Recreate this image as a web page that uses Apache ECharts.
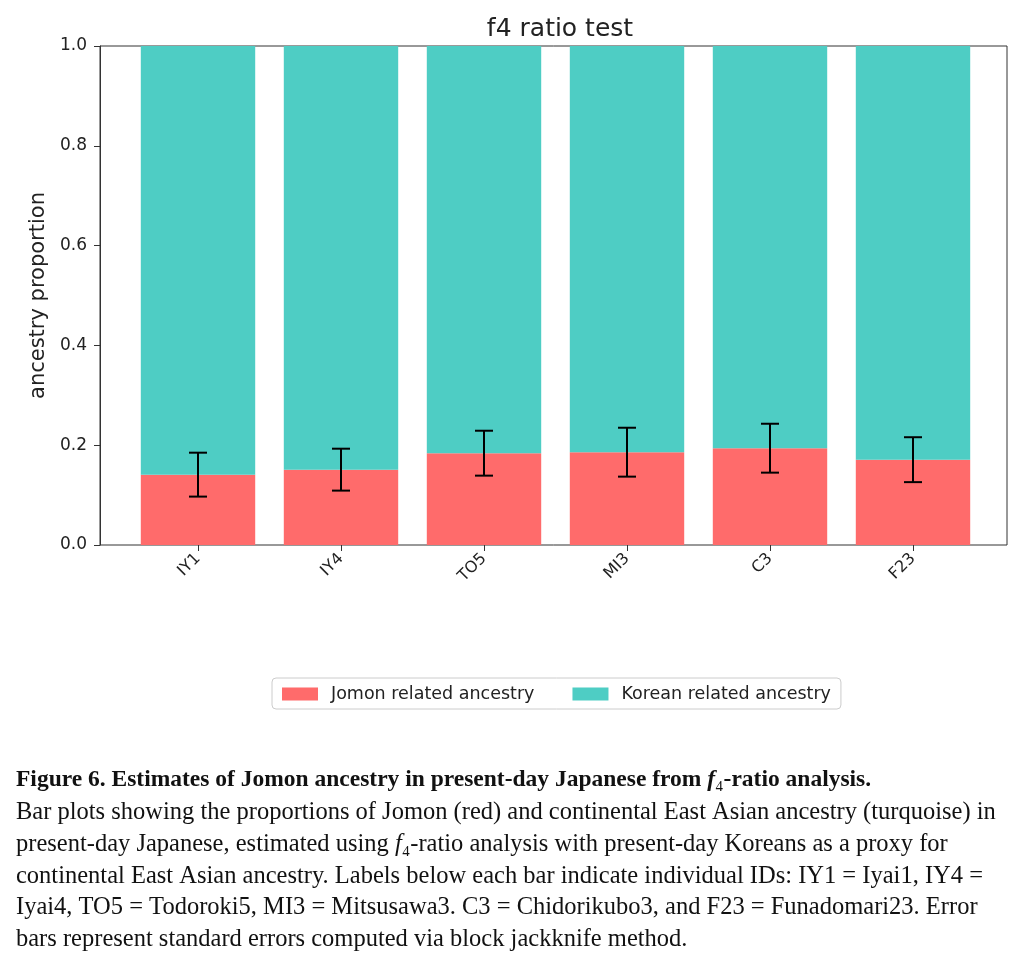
<!DOCTYPE html>
<html>
<head>
<meta charset="utf-8">
<title>f4 ratio test</title>
<script src="https://cdn.jsdelivr.net/npm/echarts@6/dist/echarts.min.js"></script>
<style>
  html, body { margin: 0; padding: 0; background: #fff; }
  #chart { width: 1024px; height: 971px; }
</style>
</head>
<body>
<div id="chart"></div>
<script>
// sample IDs and f4-ratio estimates
var samples = ["IY1", "IY4", "TO5", "MI3", "C3", "F23"];
var jomon = [0.141, 0.151, 0.184, 0.186, 0.194, 0.171];
var stdErr = [0.044, 0.042, 0.045, 0.049, 0.049, 0.045];
var yTicks = [0, 0.2, 0.4, 0.6, 0.8, 1.0];

var korean = jomon.map(function (v) { return 1 - v; });
var errData = samples.map(function (s, i) {
  return [i, jomon[i] - stdErr[i], jomon[i] + stdErr[i]];
});

var sans = "DejaVu Sans";
var serif = "Liberation Serif";

// caption under the figure
var caption = [
  [{ t: "Figure 6. Estimates of Jomon ancestry in present-day Japanese from ", s: "b" }, { t: "f", s: "bi" }, { t: "₄", s: "sub" }, { t: "-ratio analysis.", s: "b" }],
  [{ t: "Bar plots showing the proportions of Jomon (red) and continental East Asian ancestry (turquoise) in", s: "n" }],
  [{ t: "present-day Japanese, estimated using ", s: "n" }, { t: "f", s: "i" }, { t: "₄", s: "sub" }, { t: "-ratio analysis with present-day Koreans as a proxy for", s: "n" }],
  [{ t: "continental East Asian ancestry. Labels below each bar indicate individual IDs: IY1 = Iyai1, IY4 =", s: "n" }],
  [{ t: "Iyai4, TO5 = Todoroki5, MI3 = Mitsusawa3. C3 = Chidorikubo3, and F23 = Funadomari23. Error", s: "n" }],
  [{ t: "bars represent standard errors computed via block jackknife method.", s: "n" }]
];
var capFont = 24.5;
var rich = {
  n: { fontFamily: serif, fontSize: capFont, fill: "#111" },
  b: { fontFamily: serif, fontSize: 23.5, fontWeight: "bold", fill: "#111" },
  i: { fontFamily: serif, fontSize: capFont, fontStyle: "italic", fill: "#111" },
  bi: { fontFamily: serif, fontSize: 23.5, fontStyle: "italic", fontWeight: "bold", fill: "#111" },
  sub: { fontFamily: serif, fontSize: capFont, fill: "#111" }
};
var capY = [777, 810, 842, 874, 905, 937];
var graphics = caption.map(function (line, k) {
  return {
    type: "text",
    left: 16,
    top: capY[k] - 10,
    style: {
      text: line.map(function (p) { return "{" + p.s + "|" + p.t + "}"; }).join(""),
      rich: rich,
      font: capFont + "px " + serif
    }
  };
});

var myChart = echarts.init(document.getElementById("chart"));
myChart.setOption({
  backgroundColor: "#fff",
  animation: false,
  title: {
    text: "f4 ratio test",
    left: 555,
    top: 12,
    textAlign: "center",
    textStyle: { fontFamily: sans, fontSize: 25, fontWeight: "normal", color: "#222" }
  },
  legend: {
    data: ["Jomon related ancestry", "Korean related ancestry"],
    left: 272,
    top: 678,
    padding: [7, 10, 6, 10],
    itemWidth: 36,
    itemHeight: 13,
    itemGap: 38,
    icon: "rect",
    borderColor: "#cccccc",
    borderWidth: 1,
    borderRadius: 4,
    selectedMode: false,
    textStyle: { fontFamily: sans, fontSize: 17.5, color: "#222", padding: [0, 0, 0, 8] }
  },
  grid: [
    // frame and y axis
    { left: 100, top: 46, width: 907, height: 499, show: true, borderColor: "#333", borderWidth: 1, containLabel: false },
    // bars, placed like matplotlib's margins
    { left: 126.5, top: 46, width: 858, height: 499, containLabel: false }
  ],
  xAxis: [
    { gridIndex: 0, type: "value", min: 0, max: 1, show: false },
    {
      gridIndex: 1,
      type: "category",
      data: samples,
      axisLine: { show: false },
      axisTick: { show: true, alignWithLabel: true, length: 6, lineStyle: { color: "#333" } },
      axisLabel: { rotate: 45, margin: 11, fontFamily: sans, fontSize: 16, color: "#222" }
    }
  ],
  yAxis: [
    {
      gridIndex: 0,
      type: "value",
      min: 0,
      max: 1,
      interval: 0.2,
      name: "ancestry proportion",
      nameLocation: "middle",
      nameGap: 46,
      nameTextStyle: { fontFamily: sans, fontSize: 21, color: "#222" },
      axisLine: { show: true, lineStyle: { color: "#333" } },
      axisTick: { show: true, length: 6, lineStyle: { color: "#333" } },
      axisLabel: {
        fontFamily: sans, fontSize: 17, color: "#222", margin: 13,
        formatter: function (v) { return v.toFixed(1); }
      },
      splitLine: { show: false }
    },
    { gridIndex: 1, type: "value", min: 0, max: 1, show: false }
  ],
  series: [
    {
      name: "Jomon related ancestry",
      type: "bar",
      xAxisIndex: 1,
      yAxisIndex: 1,
      stack: "anc",
      barWidth: "80%",
      itemStyle: { color: "#ff6b6b" },
      data: jomon
    },
    {
      name: "Korean related ancestry",
      type: "bar",
      xAxisIndex: 1,
      yAxisIndex: 1,
      stack: "anc",
      barWidth: "80%",
      itemStyle: { color: "#4ecdc4" },
      data: korean
    },
    {
      type: "custom",
      xAxisIndex: 1,
      yAxisIndex: 1,
      z: 10,
      data: errData,
      renderItem: function (params, api) {
        var lo = api.coord([api.value(0), api.value(1)]);
        var hi = api.coord([api.value(0), api.value(2)]);
        var cap = 9;
        var st = { stroke: "#000", lineWidth: 2 };
        return {
          type: "group",
          children: [
            { type: "line", shape: { x1: lo[0], y1: lo[1], x2: hi[0], y2: hi[1] }, style: st },
            { type: "line", shape: { x1: lo[0] - cap, y1: lo[1], x2: lo[0] + cap, y2: lo[1] }, style: st },
            { type: "line", shape: { x1: hi[0] - cap, y1: hi[1], x2: hi[0] + cap, y2: hi[1] }, style: st }
          ]
        };
      }
    }
  ],
  graphic: graphics
});
</script>
</body>
</html>
